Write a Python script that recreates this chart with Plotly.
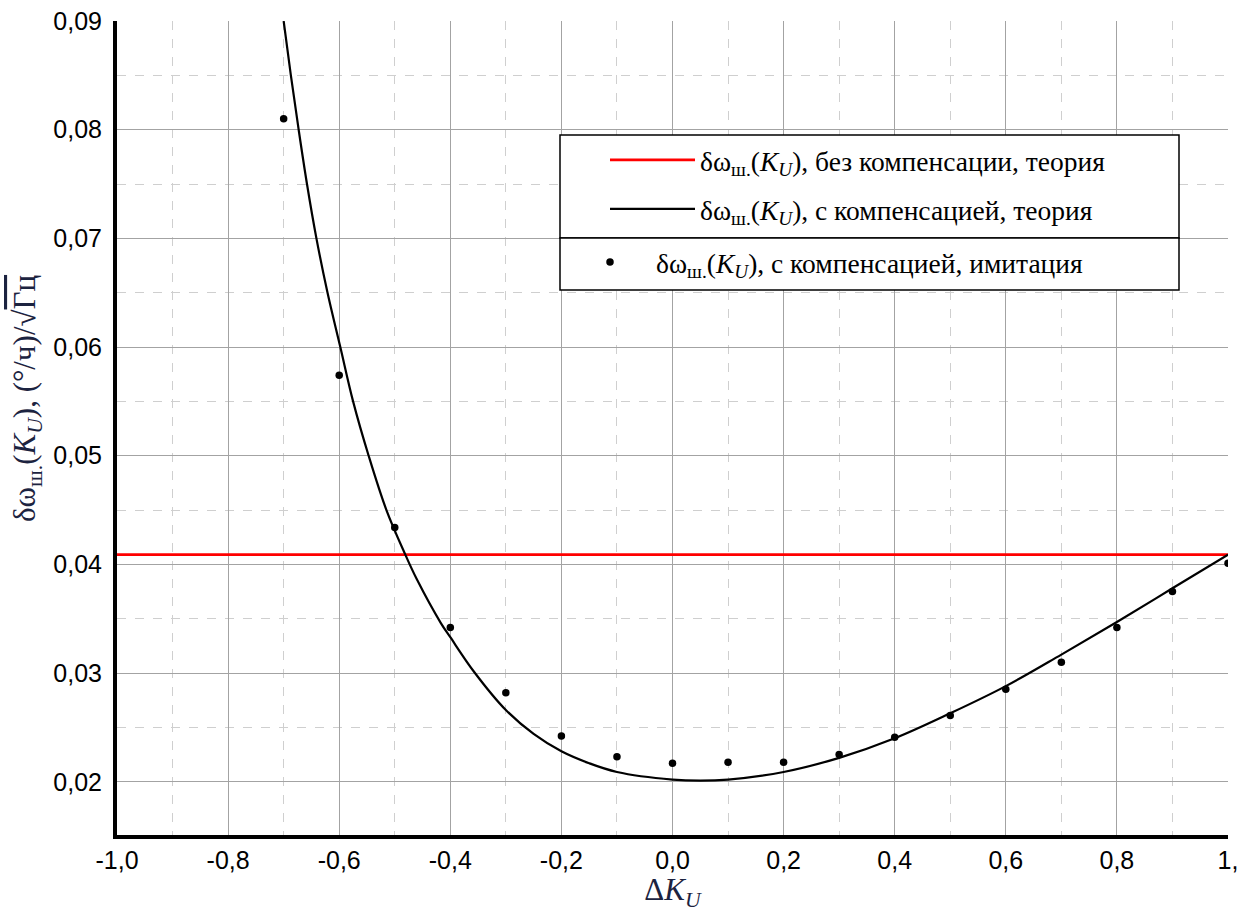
import plotly.graph_objects as go

# ---- data ----
curve_x = [-0.700, -0.687, -0.673, -0.658, -0.641, -0.621, -0.598, -0.575, -0.547, -0.515,
           -0.481, -0.460, -0.417, -0.400, -0.357, -0.300, -0.250, -0.200, -0.150, -0.100,
           0.000, 0.050, 0.100, 0.200, 0.300, 0.400, 0.500, 0.600, 0.700, 0.800, 0.900, 1.000]
curve_y = [0.0900, 0.0850, 0.0800, 0.0750, 0.0700, 0.0650, 0.0600, 0.0550, 0.0500, 0.0450,
           0.0409, 0.0386, 0.0346, 0.0333, 0.0301, 0.0266, 0.0244, 0.0228, 0.0217, 0.0209,
           0.0202, 0.0201, 0.0202, 0.0209, 0.0222, 0.0240, 0.0263, 0.0288, 0.0317, 0.0347,
           0.0378, 0.0409]

sim_x = [-0.7, -0.6, -0.5, -0.4, -0.3, -0.2, -0.1, 0.0, 0.1, 0.2, 0.3, 0.4, 0.5, 0.6, 0.7, 0.8, 0.9, 1.0]
sim_y = [0.0810, 0.0574, 0.0434, 0.0342, 0.0282, 0.0242, 0.0223, 0.0217, 0.0218, 0.0218,
         0.0225, 0.0241, 0.0261, 0.0285, 0.0310, 0.0342, 0.0375, 0.0401]

nocomp_x = [-1.0, 1.0]
nocomp_y = [0.0409, 0.0409]

x_tickvals = [-1.0, -0.8, -0.6, -0.4, -0.2, 0.0, 0.2, 0.4, 0.6, 0.8, 1.0]
x_ticktext = ["-1,0", "-0,8", "-0,6", "-0,4", "-0,2", "0,0", "0,2", "0,4", "0,6", "0,8", "1,"]
y_tickvals = [0.02, 0.03, 0.04, 0.05, 0.06, 0.07, 0.08, 0.09]
y_ticktext = ["0,02", "0,03", "0,04", "0,05", "0,06", "0,07", "0,08", "0,09"]

SYM = "δω<sub>ш.</sub>(<i>K<sub>U</sub></i>)"
name_nocomp = SYM + ", без компенсации, теория"
name_comp = SYM + ", с компенсацией, теория"
name_sim = SYM + ", с компенсацией, имитация"

# ---- layout geometry (pixels) ----
W, H = 1243, 912
L, R, T, B = 117, 1228, 21, 835


def px(xp):
    return (xp - L) / (R - L)


def py(yp):
    return (B - yp) / (B - T)


fig = go.Figure()
fig.add_trace(go.Scatter(x=nocomp_x, y=nocomp_y, mode="lines", name=name_nocomp,
                         line=dict(color="#ff0000", width=2.8), legend="legend"))
fig.add_trace(go.Scatter(x=curve_x, y=curve_y, mode="lines", name=name_comp,
                         line=dict(color="black", width=2.2, shape="spline", smoothing=1.0),
                         legend="legend2"))
fig.add_trace(go.Scatter(x=sim_x, y=sim_y, mode="markers", name=name_sim,
                         marker=dict(color="black", size=7.5), legend="legend3"))

legfont = dict(family="Liberation Serif", size=27.5, color="black")
common_leg = dict(bgcolor="rgba(0,0,0,0)", borderwidth=0, font=legfont,
                  xanchor="left", yanchor="middle")

fig.update_layout(
    width=W, height=H,
    margin=dict(l=L, r=W - R, t=T, b=H - B, autoexpand=False),
    plot_bgcolor="white", paper_bgcolor="white",
    showlegend=True,
    legend=dict(x=px(605), y=py(160), itemwidth=85, **common_leg),
    legend2=dict(x=px(605), y=py(209), itemwidth=85, **common_leg),
    legend3=dict(x=px(564), y=py(262), itemwidth=82, **common_leg),
    xaxis=dict(range=[-1.0, 1.0], tickvals=x_tickvals, ticktext=x_ticktext,
               automargin=False,
               showgrid=True, gridcolor="#a3a3a3", gridwidth=1.3,
               minor=dict(dtick=0.1, tick0=-1.0, showgrid=True, gridcolor="#cfcfcf",
                          griddash="dash", gridwidth=1),
               showline=True, linecolor="black", linewidth=4, zeroline=False,
               ticks="", tickfont=dict(family="Liberation Sans", size=25, color="black"),
               title=dict(text="Δ<i>K<sub>U</sub></i>",
                          font=dict(family="Liberation Serif", size=31, color="#1c2340"),
                          standoff=4)),
    yaxis=dict(range=[0.0151, 0.09], tickvals=y_tickvals, ticktext=y_ticktext,
               automargin=False,
               showgrid=True, gridcolor="#a3a3a3", gridwidth=1.3,
               minor=dict(dtick=0.005, tick0=0.015, showgrid=True, gridcolor="#cfcfcf",
                          griddash="dash", gridwidth=1),
               showline=True, linecolor="black", linewidth=4, zeroline=False,
               ticks="", ticklabelstandoff=6,
               tickfont=dict(family="Liberation Sans", size=25, color="black")),
    shapes=[
        dict(type="rect", xref="paper", yref="paper", x0=px(560), x1=px(1179),
             y0=py(238), y1=py(135), line=dict(color="black", width=1.5),
             fillcolor="white", layer="above"),
        dict(type="rect", xref="paper", yref="paper", x0=px(560), x1=px(1179),
             y0=py(290), y1=py(238), line=dict(color="black", width=1.5),
             fillcolor="white", layer="above"),
    ],
    annotations=[
        dict(text="δω<sub>ш.</sub>(<i>K<sub>U</sub></i>), (°/ч)/√<span style='text-decoration:overline'>Гц</span>",
             xref="paper", yref="paper", x=px(27), y=py(399), textangle=-90,
             showarrow=False, xanchor="center", yanchor="middle",
             font=dict(family="Liberation Serif", size=31, color="#1c2340")),
    ],
)

fig.write_html("out.html")
